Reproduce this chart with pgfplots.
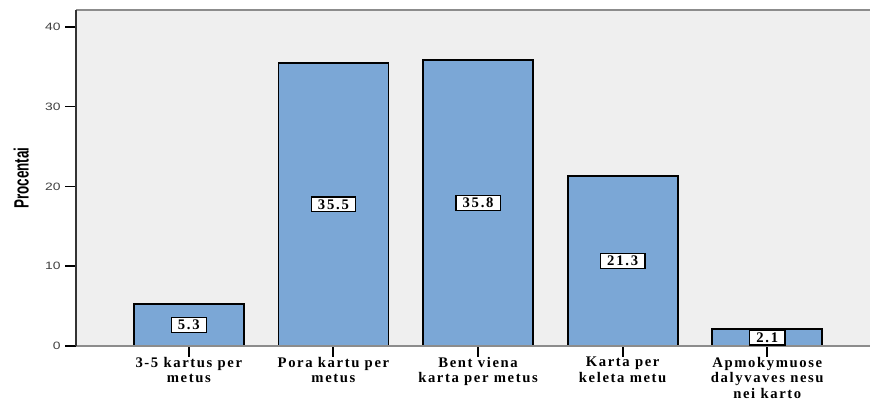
\documentclass[border=0pt]{standalone}
\usepackage{pgfplots}
\pgfplotsset{compat=1.18}
\usepackage{fontspec}
\setmainfont{Liberation Serif}
\newfontfamily\arialf{Liberation Sans}
\definecolor{bg}{HTML}{EFEFEF}
\definecolor{barc}{HTML}{7BA7D6}
\begin{document}
\begin{tikzpicture}[x=1pt,y=1pt]
\begin{axis}[
  scale only axis,
  width=595.5pt, height=252pt,
  xmin=-0.78, xmax=4.71,
  ymin=0, ymax=42.1,
  axis background/.style={fill=bg},
  axis line style={draw=none},
  axis x line*=bottom,
  axis y line*=left,
  xtick={0,1,2,3,4},
  xticklabels={{3-5 kartus per\\metus},{Pora kartu per\\metus},{Bent viena\\karta per metus},{Karta per\\keleta metu},{Apmokymuose\\dalyvaves nesu\\nei karto}},
  xticklabel style={font=\fontsize{11}{11.5}\selectfont\bfseries\addfontfeature{LetterSpace=11}, align=center, text=black, yshift=3pt},
  ytick={0,10,20,30,40},
  yticklabel style={font=\arialf\fontsize{8}{9}\selectfont\addfontfeature{FakeStretch=1.3}, text=black!75},
  /pgf/number format/assume math mode=true,
  tick style={draw=black, line width=1.2pt},
  major tick length=8pt,
  x tick style={draw=black, line width=1.5pt},
  tick align=outside,
  ylabel={\arialf\bfseries\fontsize{15.5}{16}\selectfont\addfontfeature{FakeStretch=0.65}Procentai},
  ylabel style={at={(axis description cs:0,0.5)}, anchor=center, yshift=41pt},
  clip=false,
]
\addplot[ybar, bar width=82.5pt, fill=barc, draw=black, line width=1.4pt]
  coordinates {(0,5.3) (1,35.5) (2,35.8) (3,21.3) (4,2.1)};
\addplot[only marks, mark=none,
  nodes near coords,
  nodes near coords style={font=\fontsize{11}{12}\selectfont\bfseries\addfontfeature{LetterSpace=12}, fill=white, draw=black, line width=1pt, inner xsep=5pt, inner ysep=1.8pt, anchor=center, text=black},
  point meta=explicit symbolic,
] coordinates {(0,2.65)[5.3] (1,17.75)[35.5] (2,17.9)[35.8] (3,10.65)[21.3] (4,1.05)[2.1]};
\draw[black!45, line width=1pt] (rel axis cs:0,0) -- (rel axis cs:1,0);
\draw[black!45, line width=1.2pt] (rel axis cs:0,1) -- (rel axis cs:1,1);
\draw[black!80, line width=1pt] (rel axis cs:0,0) -- (rel axis cs:0,1);
\coordinate (O) at (rel axis cs:0,0);
\coordinate (T) at (rel axis cs:1,1);
\end{axis}
\pgfresetboundingbox
\path ([shift={(-57pt,-40.5pt)}]O) rectangle ([shift={(0pt,7.5pt)}]T);
\end{tikzpicture}
\end{document}
